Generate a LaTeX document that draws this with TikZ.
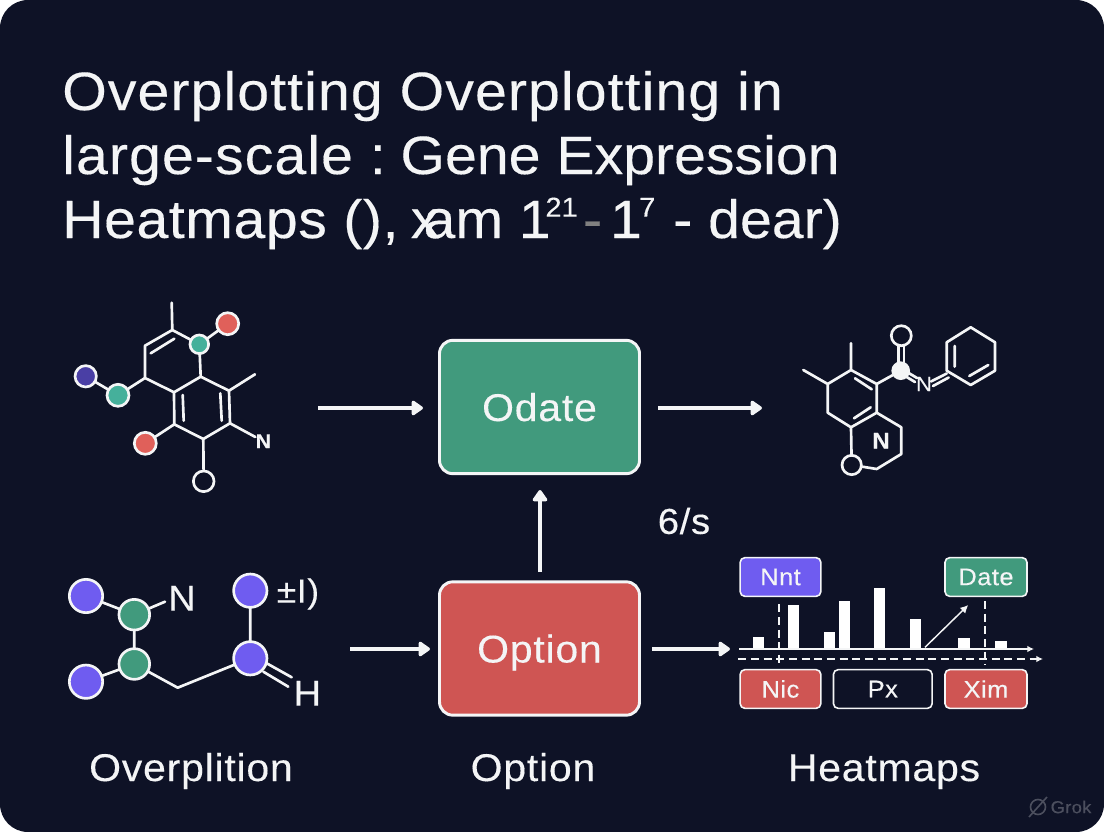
\documentclass[tikz,border=0pt]{standalone}
\usepackage{fontspec}
\setmainfont[FakeStretch=1.06,LetterSpace=2,FakeBold=0.25]{Liberation Sans}
\newfontfamily\tightfont[FakeStretch=1.06,LetterSpace=0,FakeBold=0.25]{Liberation Sans}
\newfontfamily\midfont[FakeStretch=1.06,LetterSpace=1,FakeBold=0.25]{Liberation Sans}
\usetikzlibrary{arrows.meta}
\definecolor{bg}{HTML}{0E1226}
\definecolor{ink}{HTML}{F4F5F6}
\definecolor{boxgreen}{HTML}{419A7D}
\definecolor{boxred}{HTML}{CF5553}
\definecolor{teal}{HTML}{45B09B}
\definecolor{redatom}{HTML}{E0605A}
\definecolor{darkblue}{HTML}{4A3FA5}
\definecolor{purp}{HTML}{6F5CF0}
\definecolor{wm}{HTML}{4C4F5E}
\newcommand{\supnum}[1]{\raisebox{16pt}{\fontsize{20.5}{20.5}\selectfont #1}}
\tikzset{
  px/.style={x=0.75pt,y=-0.75pt},
  bond/.style={draw=ink,line width=2pt,line cap=round,line join=round},
  flow/.style={draw=ink,line width=2.4pt,-{Triangle[length=9.5pt,width=12.5pt,round]}},
  atom/.style={circle,inner sep=0pt,outer sep=0pt,draw=ink,line width=2pt,minimum size=#1},
  mainbox/.style={rectangle,rounded corners=10pt,draw=ink,line width=2.2pt,minimum width=150pt,minimum height=100pt,text=ink,text height=21pt,text depth=0pt,font=\fontsize{29}{34}\selectfont},
  tagbox/.style={rectangle,rounded corners=3.5pt,draw=ink,line width=1.2pt,minimum height=29pt,text=ink,font=\fontsize{18}{22}\selectfont},
  title/.style={anchor=base west,text=ink,inner sep=0pt,font=\fontsize{40.5}{48}\selectfont},
  caption/.style={text=ink,inner sep=0pt,anchor=base,font=\fontsize{29}{34}\selectfont},
  atomlabel/.style={text=ink,inner sep=0pt,font=\fontsize{#1}{#1}\selectfont},
  bar/.style={fill=white,draw=none},
  guide/.style={draw=ink,line width=1.3pt,dash pattern=on 6pt off 3.5pt}
}
\begin{document}
\begin{tikzpicture}[px]
\useasboundingbox (0,0) rectangle (1104,832);
\fill[white] (0,0) rectangle (1104,832);
\fill[bg,rounded corners=21pt] (0,0) rectangle (1104,832);

% title
\node[title] (t1) at (62,110) {Overplotting Overplotting in};
\node[title] (t2) at (62,174) {large-scale :\kern-6pt{} {\tightfont Gene Expression}};
\node[title] (t3) at (62,238) {\midfont Heatmaps (),\kern-3pt{} {\tightfont x\kern-12pt am 1\kern-4pt\supnum{21}\kern4pt{\color{gray}-}\kern6pt 1\kern-2pt\supnum{7}\kern1.5pt{} - dear)}};

% main boxes
\node[mainbox,fill=boxgreen] (odate) at (539.5,407) {Odate};
\node[mainbox,fill=boxred] (option) at (539.5,648.5) {Option};
\node[caption] (c1) at (191,781) {Overplition};
\node[caption] (c2) at (533,781) {Option};
\node[caption] (c3) at (884,781) {Heatmaps};
\node[atomlabel=27] (rate) at (684,521) {6/s};

% molecule 1
\coordinate (m1a) at (171.7,302.7);
\coordinate (m1b) at (172.3,330);
\coordinate (m1c) at (200.7,376.7);
\coordinate (m1d) at (145,345.7);
\coordinate (m1e) at (145,378);
\coordinate (m1f) at (174,392.3);
\coordinate (m1g) at (229,390.7);
\coordinate (m1h) at (255,374.3);
\coordinate (m1i) at (230,423.3);
\coordinate (m1j) at (203.3,439);
\coordinate (m1k) at (174.3,424.3);
\coordinate (m1l) at (150.7,353.3);
\coordinate (m1m) at (174.3,338.7);
\coordinate (m1n) at (182.7,395);
\coordinate (m1o) at (183.7,420.7);
\coordinate (m1p) at (220.3,393.3);
\coordinate (m1q) at (221.7,420.7);
\node[atom=14pt,fill=teal] (m1t1) at (199.3,344.3) {};
\node[atom=16.5pt,fill=redatom] (m1r1) at (227.7,323.7) {};
\node[atom=16.5pt,fill=redatom] (m1r2) at (145.3,443.3) {};
\node[atom=15.5pt,fill=bg] (m1w) at (203.7,481.3) {};
\node[atom=16.5pt,fill=teal] (m1t2) at (118,395.3) {};
\node[atom=16pt,fill=darkblue] (m1v) at (85.7,376.3) {};
\node[atomlabel=15,font=\bfseries\fontsize{15}{15}\selectfont] (m1N) at (263.3,441.3) {N};
\draw[bond] (m1a)--(m1b)--(m1d)--(m1e)--(m1f)--(m1c)--(m1g)--(m1i)--(m1j)--(m1k)--(m1f);
\draw[bond] (m1b)--(m1t1) (m1t1)--(m1c) (m1t1)--(m1r1) (m1g)--(m1h) (m1k)--(m1r2) (m1j)--(m1w) (m1i)--(m1N) (m1e)--(m1t2) (m1t2)--(m1v);
\draw[bond] (m1l)--(m1m) (m1n)--(m1o) (m1p)--(m1q);

% molecule 2
\node[atom=15pt,fill=bg] (m2o1) at (901.3,335.7) {};
\node[circle,fill=ink,inner sep=0pt,minimum size=14pt] (m2ball) at (900.7,370.7) {};
\node[atomlabel=15.5] (m2N) at (924,384) {N};
\node[atomlabel=17,font=\bfseries\fontsize{17}{17}\selectfont] (m2N2) at (881,440.7) {N};
\node[atom=14.5pt,fill=bg] (m2o2) at (851.7,465) {};
\coordinate (m2a) at (946.7,342.3);
\coordinate (m2b) at (970.7,327.3);
\coordinate (m2c) at (995,342.3);
\coordinate (m2d) at (995,370.7);
\coordinate (m2e) at (970.7,385);
\coordinate (m2f) at (946.7,370.7);
\coordinate (m2g) at (876.7,384);
\coordinate (m2h) at (851,370);
\coordinate (m2i) at (851,343.3);
\coordinate (m2j) at (827.7,384);
\coordinate (m2k) at (803.3,370);
\coordinate (m2l) at (827.7,412.7);
\coordinate (m2m) at (851,427.3);
\coordinate (m2n) at (876.7,412.7);
\coordinate (m2p) at (901.3,427.3);
\coordinate (m2q) at (901.3,454);
\coordinate (m2r) at (876.7,469);
\draw[bond] (m2a)--(m2b)--(m2c)--(m2d)--(m2e)--(m2f)--cycle;
\draw[bond] (954.7,346)--(954.7,366.7) (969.3,376)--(988.3,365);
\draw[bond] (m2ball)--(m2g)--(m2h)--(m2i) (m2h)--(m2j)--(m2k) (m2j)--(m2l)--(m2m)--(m2n)--(m2g) (m2n)--(m2p)--(m2q)--(m2r)--(m2o2) (m2m)--(m2o2);
\draw[bond] (855,378.3)--(871.7,389.3) (854,418.3)--(870.7,407.3);
\draw[bond] (898.7,345)--(898.7,362) (904,345)--(904,362);
\draw[bond] (907,372)--(917,378) (905,376)--(915,382);
\draw[bond] (931,381.5)--(946.7,373.5) (933,386)--(948.7,377.5);

% molecule 3
\node[atom=25pt,fill=purp] (m3a) at (86,596) {};
\node[atom=23pt,fill=boxgreen] (m3b) at (134.3,614.7) {};
\node[atom=25pt,fill=purp] (m3c) at (86,681.7) {};
\node[atom=23pt,fill=boxgreen] (m3d) at (134.3,664) {};
\node[atom=25pt,fill=purp] (m3e) at (250.3,658.3) {};
\node[atom=25pt,fill=purp] (m3f) at (250.3,590.7) {};
\coordinate (m3k) at (177.7,687.7);
\node[atomlabel=27] (m3N) at (182,598.3) {N};
\node[atomlabel=25] (m3pm) at (298,594) {±I)};
\node[atomlabel=27] (m3H) at (307.3,693.3) {H};
\draw[bond] (m3a)--(m3b) (m3b)--(m3d) (m3c)--(m3d) (m3d)--(m3k)--(m3e) (m3e)--(m3f);
\draw[bond] (m3b)--(165,601.7);
\draw[bond] (266.7,663.3)--(291.7,677.3) (263.3,671.7)--(288.3,686.7);

% connectors
\coordinate (s1) at (318,408);
\coordinate (e1) at (423,408);
\coordinate (s2) at (658,408);
\coordinate (e2) at (762,408);
\coordinate (s3) at (540,572);
\coordinate (e3) at (540,490);
\coordinate (s4) at (350,649);
\coordinate (e4) at (430,649);
\coordinate (s5) at (652,649);
\coordinate (e5) at (730,649);
\draw[flow] (s1)--(e1);
\draw[flow] (s2)--(e2);
\draw[flow] (s3)--(e3);
\draw[flow] (s4)--(e4);
\draw[flow] (s5)--(e5);

% chart panel
\foreach \a/\b/\t in {752.7/764/637,788.3/799.3/605.3,824.3/835.3/631.7,839/850/600.7,873.7/884.7/588.3,910.3/921.3/619,958.3/969.7/638.3,995.3/1006.7/641}
  \fill[bar] (\a,\t) rectangle (\b,649);
\coordinate (ax1) at (739.3,649);
\coordinate (ax2) at (1034,649);
\coordinate (dx1) at (738.3,659);
\coordinate (dx2) at (1043,659);
\draw[draw=ink,line width=1.3pt,-{Latex[length=5pt,width=5pt]}] (ax1)--(ax2);
\draw[guide,-{Latex[length=5pt,width=5pt]}] (dx1)--(dx2);
\coordinate (v1a) at (778.7,604.3);
\coordinate (v1b) at (778.7,664.3);
\coordinate (v2a) at (985.3,601);
\coordinate (v2b) at (985.3,665);
\draw[guide] (v1a)--(v1b);
\draw[guide] (v2a)--(v2b);
\coordinate (ar1) at (925,647.3);
\coordinate (ar2) at (968.3,605);
\draw[draw=ink,line width=1.1pt,-{Latex[length=6pt,width=6pt]}] (ar1)--(ar2);
\node[tagbox,fill=purp,minimum width=60.5pt] (nnt) at (780.5,577) {Nnt};
\node[tagbox,fill=boxgreen,minimum width=61.5pt] (date) at (986,577) {Date};
\node[tagbox,fill=boxred,minimum width=60.5pt] (nic) at (780.5,689) {Nic};
\node[tagbox,fill=bg,minimum width=74pt] (pxb) at (882.8,689) {Px};
\node[tagbox,fill=boxred,minimum width=61.5pt] (xim) at (986,689) {Xim};

% watermark
\draw[wm,line width=1.2pt] (1038,807) circle (7.5);
\draw[wm,line width=1.2pt] (1029,817)--(1047,797);
\node[text=wm,inner sep=0pt,font=\fontsize{13}{13}\selectfont] (grok) at (1071,807) {Grok};
\end{tikzpicture}
\end{document}
